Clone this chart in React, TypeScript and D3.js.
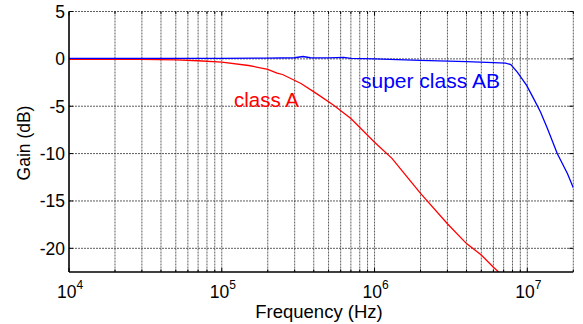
import React, { useEffect, useRef } from "react";
import * as d3 from "d3";

// frequency (Hz) / gain (dB)
const superABFreq = [1e4, 3e4, 1e5, 2e5, 3.0e5, 3.4e5, 3.8e5, 5e5, 6.3e5, 7e5, 1e6, 2e6, 4e6, 6e6, 7.2e6, 7.8e6, 8.6e6, 9.9e6, 1.1e7, 1.22e7, 1.35e7, 1.57e7, 1.83e7, 2e7];
const superABGain = [0.05, 0.05, 0.05, 0.08, 0.12, 0.25, 0.12, 0.1, 0.15, 0.05, 0.0, -0.15, -0.3, -0.4, -0.45, -0.6, -1.4, -2.8, -4.2, -5.6, -7.3, -10.0, -12.1, -13.6];

const classAFreq = [1e4, 3e4, 5e4, 7e4, 1e5, 1.5e5, 2e5, 2.3e5, 2.5e5, 3.3e5, 4.2e5, 5.4e5, 7e5, 1e6, 1.3e6, 2e6, 3e6, 4e6, 5e6, 6e6, 6.6e6];
const classAGain = [-0.05, -0.05, -0.1, -0.2, -0.35, -0.7, -1.1, -1.5, -1.65, -2.6, -3.7, -4.9, -6.3, -8.8, -10.5, -14.2, -17.4, -19.5, -20.7, -22.0, -22.6];

const yTicks = [5, 0, -5, -10, -15, -20];
const decades = [4, 5, 6, 7];

const W = 583;
const H = 324;
const left = 69;
const right = 573.3;
const top = 11.5;
const bottom = 272;

const App = () => {
  const svgRef = useRef(null);

  useEffect(() => {
    const svg = d3.select(svgRef.current);
    svg.selectAll("*").remove();

    const x = d3.scaleLog().domain([1e4, 2e7]).range([left, right]);
    const y = d3.scaleLinear().domain([-22.5, 5]).range([bottom, top]);

    // all grid positions: 1..9 x 10^k inside the domain
    const gridX = [];
    for (const k of decades) {
      for (let m = 1; m <= 9; m++) {
        const v = m * Math.pow(10, k);
        if (v > 1e4 && v <= 2e7) gridX.push(v);
      }
    }

    const font = "Arial, 'Liberation Sans', Helvetica, sans-serif";

    const grid = svg.append("g");
    grid
      .selectAll(".gx")
      .data(gridX)
      .enter()
      .append("line")
      .attr("x1", (d) => x(d))
      .attr("x2", (d) => x(d))
      .attr("y1", top)
      .attr("y2", bottom)
      .attr("stroke", "#333")
      .attr("stroke-width", 0.8)
      .attr("stroke-dasharray", "2,1");

    grid
      .selectAll(".gy")
      .data(yTicks)
      .enter()
      .append("line")
      .attr("x1", left)
      .attr("x2", right)
      .attr("y1", (d) => y(d))
      .attr("y2", (d) => y(d))
      .attr("stroke", "#333")
      .attr("stroke-width", 0.8)
      .attr("stroke-dasharray", "2,1");

    // tick marks, inside, on all four sides
    const ticks = svg.append("g").attr("stroke", "#000").attr("stroke-width", 1);
    const allX = [1e4, ...gridX];
    allX.forEach((v) => {
      const len = decades.some((k) => Math.abs(v - Math.pow(10, k)) < 1) ? 4 : 2.5;
      ticks.append("line").attr("x1", x(v)).attr("x2", x(v)).attr("y1", bottom).attr("y2", bottom - len);
      ticks.append("line").attr("x1", x(v)).attr("x2", x(v)).attr("y1", top).attr("y2", top + len);
    });
    yTicks.forEach((v) => {
      ticks.append("line").attr("x1", left).attr("x2", left + 4).attr("y1", y(v)).attr("y2", y(v));
      ticks.append("line").attr("x1", right).attr("x2", right - 4).attr("y1", y(v)).attr("y2", y(v));
    });

    // curves
    const clip = svg.append("clipPath").attr("id", "plotclip");
    clip.append("rect").attr("x", left).attr("y", top).attr("width", right - left).attr("height", bottom - top);

    const line = d3
      .line()
      .x((d) => x(d[0]))
      .y((d) => y(d[1]));

    const curves = svg.append("g").attr("clip-path", "url(#plotclip)");
    curves
      .append("path")
      .attr("d", line(classAFreq.map((f, i) => [f, classAGain[i]])))
      .attr("fill", "none")
      .attr("stroke", "#ff0000")
      .attr("stroke-width", 1.3);
    curves
      .append("path")
      .attr("d", line(superABFreq.map((f, i) => [f, superABGain[i]])))
      .attr("fill", "none")
      .attr("stroke", "#0000ff")
      .attr("stroke-width", 1.3);

    // axis lines (left + bottom)
    svg.append("line").attr("x1", left).attr("x2", left).attr("y1", top).attr("y2", bottom).attr("stroke", "#000").attr("stroke-width", 1.6);
    svg.append("line").attr("x1", left).attr("x2", right).attr("y1", bottom).attr("y2", bottom).attr("stroke", "#000").attr("stroke-width", 1.6);

    // y tick labels
    svg
      .append("g")
      .selectAll("text")
      .data(yTicks)
      .enter()
      .append("text")
      .attr("x", left - 4)
      .attr("y", (d) => y(d) + 6.5)
      .attr("text-anchor", "end")
      .attr("font-family", font)
      .attr("font-size", 17.5)
      .text((d) => d);

    // x tick labels 10^k
    decades.forEach((k) => {
      const t = svg
        .append("text")
        .attr("x", x(Math.pow(10, k)) + 1)
        .attr("y", bottom + 26)
        .attr("text-anchor", "middle")
        .attr("font-family", font)
        .attr("font-size", 17.5);
      t.append("tspan").text("10");
      t.append("tspan").attr("dy", -9).attr("font-size", 12).text(k);
    });

    // axis titles
    svg
      .append("text")
      .attr("x", 319)
      .attr("y", 318)
      .attr("text-anchor", "middle")
      .attr("font-family", font)
      .attr("font-size", 18.5)
      .text("Frequency (Hz)");

    svg
      .append("text")
      .attr("transform", `translate(30,143) rotate(-90)`)
      .attr("text-anchor", "middle")
      .attr("font-family", font)
      .attr("font-size", 17.5)
      .text("Gain (dB)");

    // curve labels
    svg
      .append("text")
      .attr("x", 234)
      .attr("y", 107)
      .attr("font-family", font)
      .attr("font-size", 20.5)
      .attr("fill", "#ff0000")
      .text("class A");
    svg
      .append("text")
      .attr("x", 361)
      .attr("y", 88)
      .attr("font-family", font)
      .attr("font-size", 21)
      .attr("fill", "#0000ff")
      .text("super class AB");
  }, []);

  return (
    <svg
      ref={svgRef}
      width={W}
      height={H}
      style={{ position: "absolute", left: 0, top: 0, background: "#fff" }}
    ></svg>
  );
};

export default App;
